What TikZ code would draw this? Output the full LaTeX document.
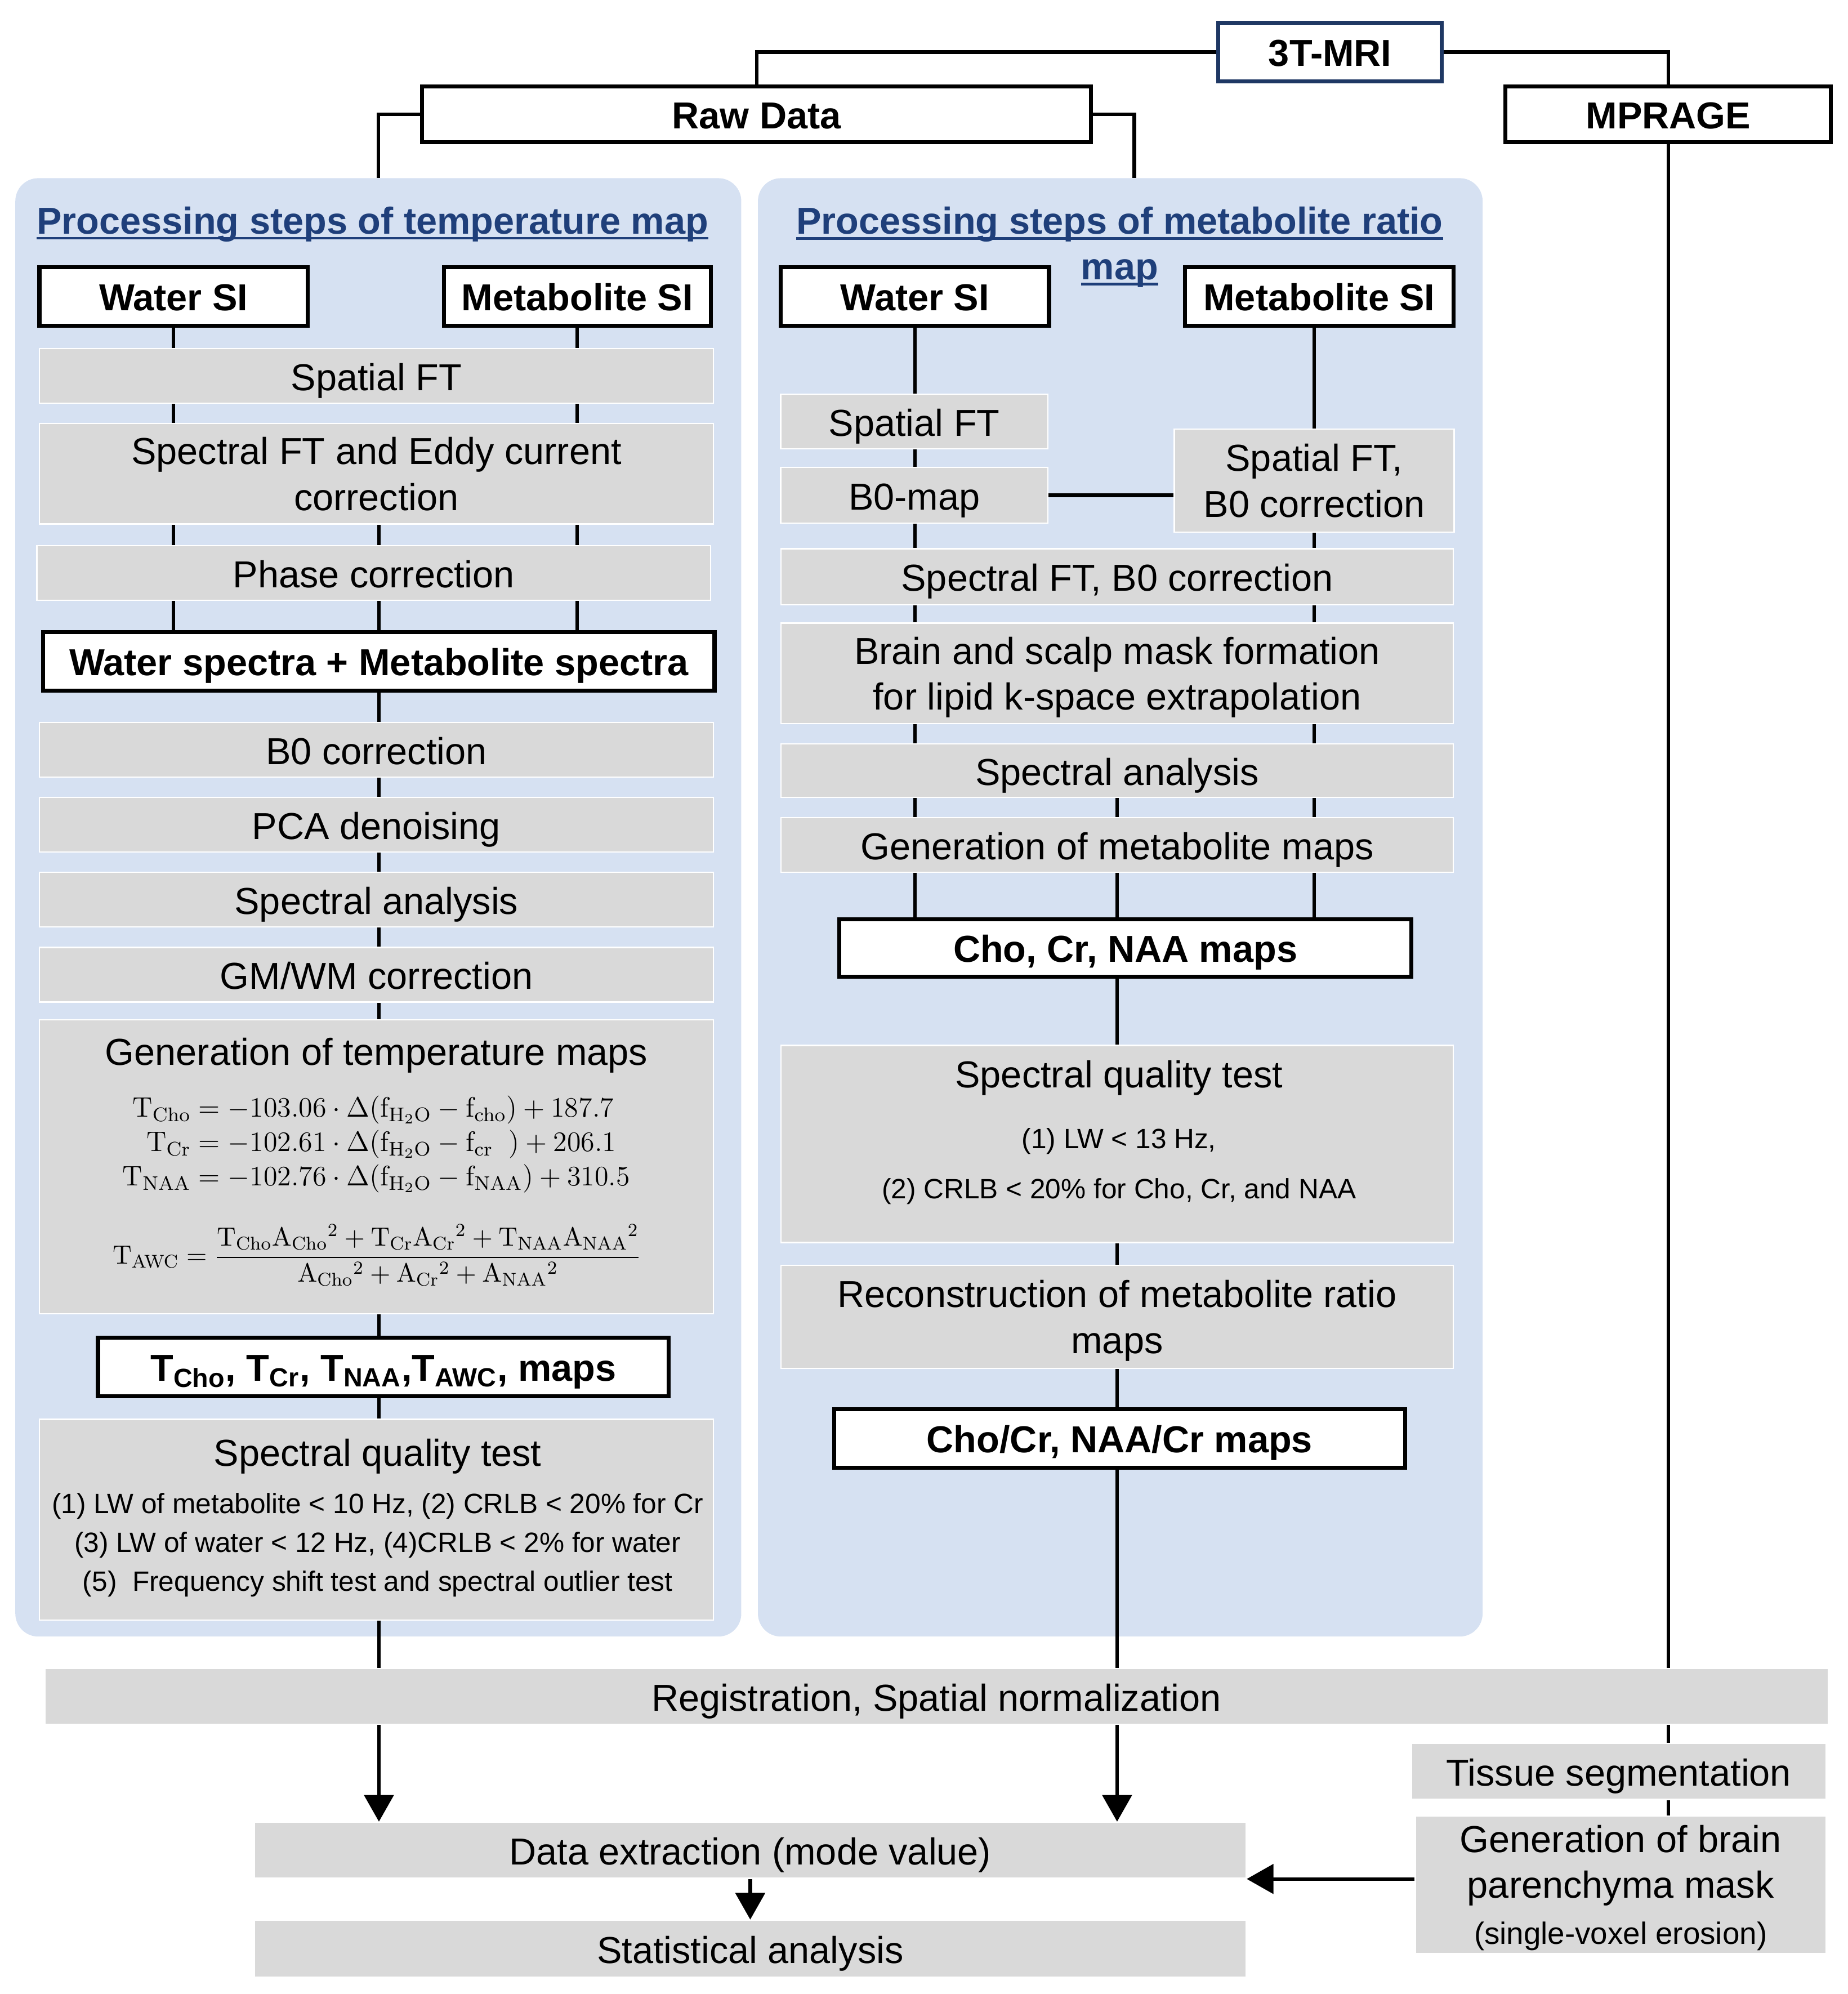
\RequirePackage{fix-cm}
\documentclass[tikz,border=0pt]{standalone}
\usepackage{amsmath}
\usepackage[no-math]{fontspec}
\setmainfont{Liberation Sans}
\usepackage{xcolor}
\usepackage{tikz}
\usetikzlibrary{arrows.meta,backgrounds}

\definecolor{boxgray}{HTML}{D9D9D9}
\definecolor{panelblue}{HTML}{D6E1F2}
\definecolor{titleblue}{HTML}{1F3F7A}
\definecolor{mrinavy}{HTML}{1F3864}

\newcommand\stepfont{\fontsize{16.8}{20.5}\selectfont}
\newcommand\notefont{\fontsize{12.5}{17.4}\selectfont}
\newcommand\eqfont{\fontsize{12.6}{15.4}\selectfont}
\newcommand\fracfont{\fontsize{11.8}{15.4}\selectfont}
\newcommand\ulbar[1]{\setbox0\hbox{#1}\rlap{\rule[-0.15em]{\wd0}{0.07em}}\box0}
\newcommand\Tm[1]{\mathrm{T}_{\mathrm{#1}}}
\newcommand\Am[1]{\mathrm{A}_{\mathrm{#1}}{}^{2}}
\newcommand\fm[1]{\mathrm{f}_{\mathrm{#1}}}
\newcommand\fw{\mathrm{f}_{\mathrm{H_2O}}}

\begin{document}
\begin{tikzpicture}[x=0.02cm, y=-0.02cm,
  panel/.style={fill=panelblue, rounded corners=0.36cm, minimum height=22.94cm, inner sep=0pt},
  grayfill/.style={fill=boxgray, draw=white, line width=0.6pt, inner sep=0pt, align=center, font=\stepfont, minimum height=0.86cm},
  graybox/.style={grayfill, text height=15.8pt, text depth=2.8pt},
  boldbox/.style={draw, line width=1.8pt, fill=white, inner sep=0pt, align=center, font=\stepfont\bfseries, minimum height=0.92cm, text height=15.4pt, text depth=2.8pt},
  txt/.style={inner sep=0pt, align=center},
  conn/.style={line width=1.6pt},
  arr/.style={line width=1.6pt, -{Triangle[length=0.42cm, width=0.46cm]}}
]
\useasboundingbox (0,0) rectangle (1453,1568);

\begin{scope}[on background layer]
\node[panel, minimum width=11.42cm] (lpanel) at (297.5,713.5) {};
\node[panel, minimum width=11.4cm] (rpanel) at (881,713.5) {};
\end{scope}

\node[boldbox, draw=mrinavy, minimum width=3.52cm] (mri) at (1046,41) {3T-MRI};
\node[boldbox, minimum width=10.52cm, minimum height=0.88cm] (raw) at (595,90) {Raw Data};
\node[boldbox, minimum width=5.12cm, minimum height=0.88cm] (mprage) at (1312,90) {MPRAGE};

\node[txt, font=\stepfont\bfseries, text=titleblue] (ltitle) at (293,176.3) {\ulbar{Processing steps of temperature map}};
\node[txt, font=\stepfont\bfseries, text=titleblue] (rtitle) at (880.5,194.4) {\ulbar{Processing steps of metabolite ratio}\\\ulbar{map}};

\node[boldbox, minimum width=4.22cm] (lw) at (136.5,233) {Water SI};
\node[boldbox, minimum width=4.2cm] (lm) at (454,233) {Metabolite SI};
\node[graybox, minimum width=10.6cm] (l1) at (296,295.5) {Spatial FT};
\node[grayfill, minimum width=10.6cm, minimum height=1.58cm, text depth=0pt] (l2) at (296,372.5) {Spectral FT and Eddy current\\correction};
\node[graybox, minimum width=10.6cm] (l3) at (294,450.5) {Phase correction};
\node[boldbox, minimum width=10.56cm] (lspec) at (298,520) {Water spectra + Metabolite spectra};
\node[graybox, minimum width=10.6cm] (l4) at (296,589.5) {B0 correction};
\node[graybox, minimum width=10.6cm] (l5) at (296,648.5) {PCA denoising};
\node[graybox, minimum width=10.6cm] (l6) at (296,707.5) {Spectral analysis};
\node[graybox, minimum width=10.6cm] (l7) at (296,766.5) {GM/WM correction};
\node[grayfill, minimum width=10.6cm, minimum height=4.62cm] (l8) at (296,917.5) {};
\node[txt, font=\stepfont] (l8a) at (296,830) {Generation of temperature maps};
\node[txt, font=\eqfont] (l8b) at (296,900) {\jot=0pt $\begin{aligned}
  \Tm{Cho} &= -103.06\cdot\Delta(\fw-\fm{cho})+187.7\\
  \Tm{Cr} &= -102.61\cdot\Delta(\fw-\fm{cr}\;\;)+206.1\\
  \Tm{NAA} &= -102.76\cdot\Delta(\fw-\fm{NAA})+310.5
\end{aligned}$};
\node[txt, font=\fracfont] (l8c) at (296.5,987) {$\Tm{AWC}=\dfrac{\Tm{Cho}\Am{Cho}+\Tm{Cr}\Am{Cr}+\Tm{NAA}\Am{NAA}}{\Am{Cho}+\Am{Cr}+\Am{NAA}}$};
\node[boldbox, minimum width=8.98cm] (lmaps) at (301.5,1075) {T\textsubscript{Cho}, T\textsubscript{Cr}, T\textsubscript{NAA},T\textsubscript{AWC}, maps};
\node[grayfill, minimum width=10.6cm, minimum height=3.16cm] (l9) at (296,1195) {};
\node[txt, font=\stepfont] (l9a) at (297,1145) {Spectral quality test};
\node[txt, font=\notefont] (l9b) at (297,1215) {(1) LW of metabolite < 10 Hz, (2) CRLB < 20\% for Cr\\(3) LW of water < 12 Hz, (4)CRLB < 2\% for water\\(5)\ \ Frequency shift test and spectral outlier test};

\node[boldbox, minimum width=4.22cm] (rw) at (719.5,233) {Water SI};
\node[boldbox, minimum width=4.22cm] (rm) at (1037.5,233) {Metabolite SI};
\node[graybox, minimum width=4.2cm] (r1) at (719,331.5) {Spatial FT};
\node[graybox, minimum width=4.2cm, minimum height=0.88cm] (r2) at (719,389.5) {B0-map};
\node[grayfill, minimum width=4.4cm, minimum height=1.62cm] (r3) at (1033.5,378) {Spatial FT,\\B0 correction};
\node[graybox, minimum width=10.58cm, minimum height=0.88cm] (r4) at (878.5,453.5) {Spectral FT, B0 correction};
\node[grayfill, minimum width=10.58cm, minimum height=1.58cm, text depth=0pt] (r5) at (878.5,529.5) {Brain and scalp mask formation\\for lipid k-space extrapolation};
\node[graybox, minimum width=10.58cm, minimum height=0.84cm] (r6) at (878.5,606) {Spectral analysis};
\node[graybox, minimum width=10.58cm] (r7) at (878.5,664.5) {Generation of metabolite maps};
\node[boldbox, minimum width=9cm, minimum height=0.9cm] (r8) at (885,745.5) {Cho, Cr, NAA maps};
\node[grayfill, minimum width=10.58cm, minimum height=3.1cm] (r9) at (878.5,899.5) {};
\node[txt, font=\stepfont] (r9a) at (880,847.5) {Spectral quality test};
\node[txt, font=\notefont] (r9b) at (880,917) {(1) LW < 13 Hz,\\[5.1pt](2) CRLB < 20\% for Cho, Cr, and NAA};
\node[grayfill, minimum width=10.58cm, minimum height=1.62cm, text depth=0pt] (r10) at (878.5,1035.5) {Reconstruction of metabolite ratio\\maps};
\node[boldbox, minimum width=8.98cm] (r11) at (880.5,1131) {Cho/Cr, NAA/Cr maps};

\node[graybox, minimum width=28.06cm, minimum height=0.88cm] (reg) at (736.5,1334) {Registration, Spatial normalization};
\node[graybox, minimum width=6.52cm, minimum height=0.88cm] (tis) at (1273,1393) {Tissue segmentation};
\node[grayfill, minimum width=6.46cm, minimum height=2.16cm, text depth=0pt] (gbm) at (1274.5,1482) {Generation of brain\\parenchyma mask\\\fontsize{13.8}{20.5}\selectfont(single-voxel erosion)};
\node[graybox, minimum width=15.6cm, minimum height=0.88cm] (dex) at (590,1455) {Data extraction (mode value)};
\node[graybox, minimum width=15.6cm, minimum height=0.9cm] (sta) at (590,1532.5) {Statistical analysis};

\begin{scope}[on background layer={conn}]
\draw (mri.west) -| (raw.north);
\draw (mri.east) -| (mprage.north);
\draw (raw.west) -| (lpanel.north);
\draw (raw.east) -| ([xshift=0.22cm]rpanel.north);
\draw (mprage.south) -- (gbm.north -| mprage.south);
\draw (lw.south) -- (lspec.north -| lw.south);
\draw (lm.south) -- (lspec.north -| lm.south);
\draw (l2.south -| lspec.north) -- (lspec.north);
\draw (lspec.south) -- (reg.north -| lspec.south);
\draw (rw.south) -- (r8.north -| rw.south);
\draw (r3.north |- rm.south) -- (r8.north -| r3.north);
\draw (r2.east) -- (r2.east -| r3.west);
\draw (r6.south) -- (reg.north -| r6.south);
\end{scope}

\draw[arr] (reg.south -| lspec.south) -- (dex.north -| lspec.south);
\draw[arr] (reg.south -| r6.south) -- (dex.north -| r6.south);
\draw[arr] (dex.south) -- (sta.north);
\draw[arr] (dex.south east -| gbm.west) -- (dex.south east);
\end{tikzpicture}
\end{document}
